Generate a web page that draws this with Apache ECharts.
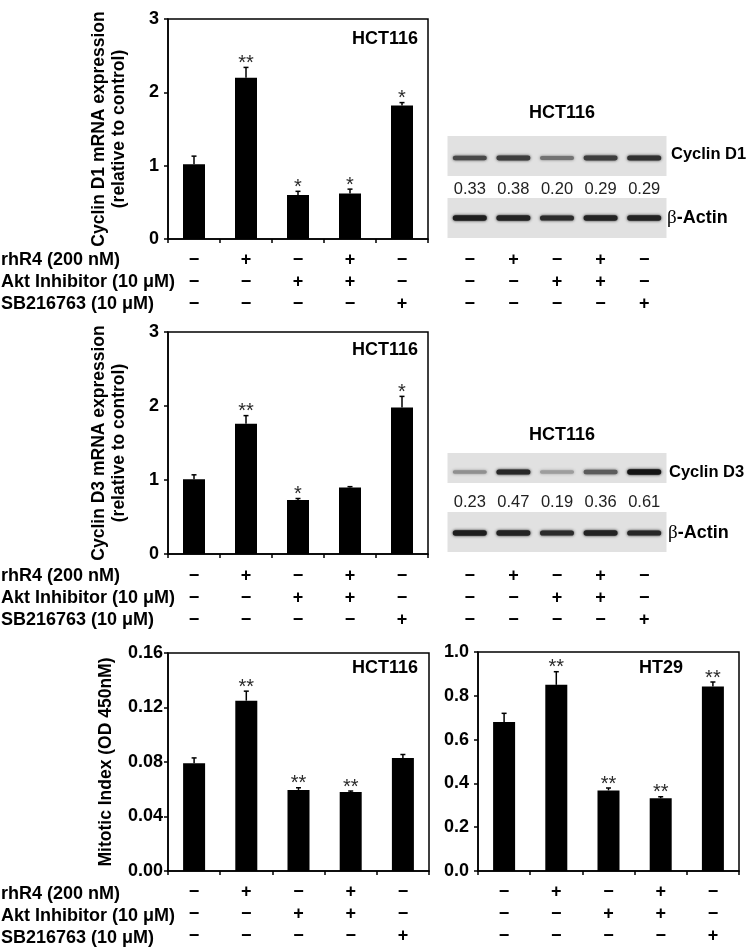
<!DOCTYPE html>
<html><head><meta charset="utf-8">
<script src="https://cdn.jsdelivr.net/npm/echarts@6/dist/echarts.min.js"></script>
<style>html,body{margin:0;padding:0;background:#fff}#c{width:749px;height:947px}</style>
</head><body><div id="c"></div><script>
// ---------- data ----------
const lanes = ['Control', 'rhR4', 'Akt inhibitor', 'rhR4 + Akt inhibitor', 'SB216763'];
const rhR4 = ['−', '+', '−', '+', '−'];
const aktInhibitor = ['−', '−', '+', '+', '−'];
const sb216763 = ['−', '−', '−', '−', '+'];
const rowLabels = ['rhR4 (200 nM)', 'Akt Inhibitor (10 μM)', 'SB216763 (10 μM)'];

const d1Mean = [1.02, 2.20, 0.60, 0.62, 1.82];
const d1Err = [0.11, 0.14, 0.05, 0.06, 0.04];
const d1Stars = ['', '**', '*', '*', '*'];
const d1Ticks = ['0', '1', '2', '3'];

const d3Mean = [1.01, 1.76, 0.73, 0.90, 1.98];
const d3Err = [0.06, 0.11, 0.02, 0.01, 0.15];
const d3Stars = ['', '**', '*', '', '*'];
const d3Ticks = ['0', '1', '2', '3'];

const mitHctMean = [0.079, 0.125, 0.0595, 0.058, 0.083];
const mitHctErr = [0.004, 0.007, 0.0016, 0.0007, 0.0025];
const mitHctStars = ['', '**', '**', '**', ''];
const mitHctTicks = ['0.00', '0.04', '0.08', '0.12', '0.16'];

const mitHt29Mean = [0.68, 0.85, 0.368, 0.332, 0.843];
const mitHt29Err = [0.04, 0.06, 0.011, 0.007, 0.02];
const mitHt29Stars = ['', '**', '**', '**', '**'];
const mitHt29Ticks = ['0.0', '0.2', '0.4', '0.6', '0.8', '1.0'];

// western blots: band intensity (0..1), densitometry ratios printed
const blotD1Cyclin = [0.72, 0.78, 0.5, 0.78, 0.85];
const blotD1Actin = [0.95, 0.92, 0.88, 0.92, 0.92];
const blotD1Ratio = [0.33, 0.38, 0.20, 0.29, 0.29];
const blotD3Cyclin = [0.35, 0.9, 0.28, 0.62, 1.0];
const blotD3Actin = [0.95, 0.92, 0.88, 0.92, 0.9];
const blotD3Ratio = [0.23, 0.47, 0.19, 0.36, 0.61];

// ---------- layout ----------
const FONT = '"Liberation Sans", Arial, sans-serif';
const G = [
  { left: 168, top: 19, width: 260, height: 220, margin: 10 },   // cyclin D1 mRNA
  { left: 168, top: 332, width: 260, height: 222, margin: 11 },  // cyclin D3 mRNA
  { left: 168, top: 653, width: 261, height: 220, margin: 10 },  // mitotic HCT116
  { left: 478, top: 652, width: 261, height: 221, margin: 10 },  // mitotic HT29
  { left: 448, top: 136, width: 218, height: 102, margin: 11 },  // blot D1
  { left: 448, top: 453, width: 218, height: 99, margin: 13 }    // blot D3
];
const LH = 22;

const chart = echarts.init(document.getElementById('c'), null, { renderer: 'canvas' });

function signFormatter(v, i) { return [rhR4[i], aktInhibitor[i], sb216763[i]].join('\n'); }

function xAxisFor(gi, showLine) {
  return {
    type: 'category', gridIndex: gi, data: lanes,
    axisLine: { show: showLine, lineStyle: { color: '#000', width: 1.5 } },
    axisTick: { show: showLine, length: 4, lineStyle: { color: '#000', width: 1.5 } },
    axisLabel: { interval: 0, margin: G[gi].margin, formatter: signFormatter, lineHeight: LH,
      fontSize: 18, fontWeight: 'bold', color: '#000', fontFamily: FONT }
  };
}
function yAxisFor(gi, ticks, name, nameGap, labelMargin) {
  const lo = parseFloat(ticks[0]), hi = parseFloat(ticks[ticks.length - 1]);
  return {
    type: 'value', gridIndex: gi, min: lo, max: hi, interval: (hi - lo) / (ticks.length - 1),
    axisLine: { show: true, lineStyle: { color: '#000', width: 1.5 } },
    axisTick: { show: true, length: 4, lineStyle: { color: '#000', width: 1.5 } },
    splitLine: { show: false },
    axisLabel: { margin: labelMargin, fontSize: 18, fontWeight: 'bold', color: '#000', fontFamily: FONT,
      formatter: (v) => ticks[Math.round((v - lo) / ((hi - lo) / (ticks.length - 1)))] },
    name: name, nameLocation: 'middle', nameRotate: 90, nameGap: nameGap,
    nameTextStyle: { fontSize: 17.5, fontWeight: 'bold', color: '#000', fontFamily: FONT, lineHeight: 20 }
  };
}

function errSeries(gi, mean, err, stars) {
  return {
    type: 'custom', xAxisIndex: gi, yAxisIndex: gi, z: 5,
    data: mean.map((m, i) => [i, m, m + err[i]]),
    renderItem: function (params, api) {
      const x = api.value(0);
      const p0 = api.coord([x, api.value(1)]);
      const p1 = api.coord([x, api.value(2)]);
      const children = [
        { type: 'line', shape: { x1: p0[0], y1: p0[1], x2: p1[0], y2: p1[1] }, style: { stroke: '#000', lineWidth: 1.5 } },
        { type: 'line', shape: { x1: p1[0] - 2.5, y1: p1[1], x2: p1[0] + 2.5, y2: p1[1] }, style: { stroke: '#000', lineWidth: 1.5 } }
      ];
      const s = stars[params.dataIndex];
      if (s) children.push({ type: 'text', x: p1[0], y: p1[1] - 4,
        style: { text: s, fill: '#2a2a2a', font: '20px ' + FONT, align: 'center', verticalAlign: 'middle' } });
      return { type: 'group', children: children };
    }
  };
}
function barSeries(gi, mean) {
  return { type: 'bar', xAxisIndex: gi, yAxisIndex: gi, data: mean, barWidth: 22,
    itemStyle: { color: '#000' }, silent: true, animation: false };
}

function blotSeries(gi, cyc, act, ratio, L) {
  return {
    type: 'custom', xAxisIndex: gi, yAxisIndex: gi, z: 3,
    data: cyc.map((c, i) => [i, c, act[i], ratio[i]]),
    renderItem: function (params, api) {
      const i = api.value(0);
      const cx = api.coord([i, 0])[0];
      const w = api.size([1, 0])[0];
      const Y = v => api.coord([i, v])[1];
      const ch = [];
      const bg = '#e1e1e1';
      ch.push({ type: 'rect', shape: { x: cx - w / 2 - 0.5, y: Y(L.cyc[0]), width: w + 1, height: Y(L.cyc[1]) - Y(L.cyc[0]) }, style: { fill: bg } });
      ch.push({ type: 'rect', shape: { x: cx - w / 2 - 0.5, y: Y(L.act[0]), width: w + 1, height: Y(L.act[1]) - Y(L.act[0]) }, style: { fill: bg } });
      function band(intensity, yc) {
        const g = Math.round(210 - intensity * 190);
        const col = 'rgb(' + g + ',' + g + ',' + g + ')';
        const h = 2.5 + intensity * 3;
        const bw = w * 0.78;
        return { type: 'rect', shape: { x: cx - bw / 2, y: yc - h / 2, width: bw, height: h, r: h / 2 },
          style: { fill: col, shadowBlur: 3, shadowColor: col } };
      }
      ch.push(band(api.value(1), Y(L.cycBand)));
      ch.push(band(api.value(2), Y(L.actBand)));
      ch.push({ type: 'text', x: cx, y: Y(L.num),
        style: { text: api.value(3).toFixed(2), fill: '#222', font: '16.5px ' + FONT, align: 'center', verticalAlign: 'middle' } });
      return { type: 'group', children: ch };
    }
  };
}
function blotY(gi) {
  return { type: 'value', gridIndex: gi, min: 0, max: G[gi].height, inverse: true, show: false,
    axisLine: { show: false }, splitLine: { show: false } };
}

const grids = G.map((g, i) => ({ left: g.left, top: g.top, width: g.width, height: g.height,
  show: i < 4, borderColor: '#000', borderWidth: 1.5, backgroundColor: 'transparent', containLabel: false }));

const graphics = [];
function txt(x, y, text, opts) {
  graphics.push(Object.assign({ type: 'text', x: x, y: y,
    style: Object.assign({ text: text, fill: '#000', font: 'bold 18px ' + FONT, align: 'left', verticalAlign: 'middle' }, opts || {}) }));
}
// left row labels
[0, 1, 2].forEach(gi => {
  const y0 = G[gi].top + G[gi].height + G[gi].margin + LH / 2;
  rowLabels.forEach((t, r) => txt(1, y0 + r * LH, t));
});
// in-plot titles
txt(418, 39, 'HCT116', { align: 'right' });
txt(418, 350, 'HCT116', { align: 'right' });
txt(418, 668, 'HCT116', { align: 'right' });
txt(661, 668, 'HT29', { align: 'center' });
// blot titles and labels
txt(562, 113, 'HCT116', { align: 'center' });
txt(562, 435, 'HCT116', { align: 'center' });
txt(671, 154, 'Cyclin D1', { font: 'bold 16.5px ' + FONT });
txt(669, 472, 'Cyclin D3', { font: 'bold 16.5px ' + FONT });
function betaLabel(x, y) {
  graphics.push({ type: 'text', x: x, y: y, style: {
    text: '{b|β}{a|-Actin}', verticalAlign: 'middle', align: 'left',
    rich: { b: { font: '19px "Liberation Serif", serif', fill: '#000' }, a: { font: 'bold 18px ' + FONT, fill: '#000' } } } });
}
betaLabel(667, 218);
betaLabel(668, 533);

const option = {
  animation: false,
  backgroundColor: '#fff',
  grid: grids,
  xAxis: [xAxisFor(0, true), xAxisFor(1, true), xAxisFor(2, true), xAxisFor(3, true), xAxisFor(4, false), xAxisFor(5, false)],
  yAxis: [
    yAxisFor(0, d1Ticks, 'Cyclin D1 mRNA expression\n(relative to control)', 39, 9),
    yAxisFor(1, d3Ticks, 'Cyclin D3 mRNA expression\n(relative to control)', 39, 9),
    yAxisFor(2, mitHctTicks, 'Mitotic Index (OD 450nM)', 52, 5),
    yAxisFor(3, mitHt29Ticks, '', 10, 9),
    blotY(4), blotY(5)
  ],
  series: [
    barSeries(0, d1Mean), errSeries(0, d1Mean, d1Err, d1Stars),
    barSeries(1, d3Mean), errSeries(1, d3Mean, d3Err, d3Stars),
    barSeries(2, mitHctMean), errSeries(2, mitHctMean, mitHctErr, mitHctStars),
    barSeries(3, mitHt29Mean), errSeries(3, mitHt29Mean, mitHt29Err, mitHt29Stars),
    blotSeries(4, blotD1Cyclin, blotD1Actin, blotD1Ratio, { cyc: [0, 40], cycBand: 22, num: 53, act: [62, 102], actBand: 82 }),
    blotSeries(5, blotD3Cyclin, blotD3Actin, blotD3Ratio, { cyc: [0, 30], cycBand: 19, num: 49, act: [59, 99], actBand: 80 })
  ],
  graphic: graphics
};
chart.setOption(option);
</script></body></html>
